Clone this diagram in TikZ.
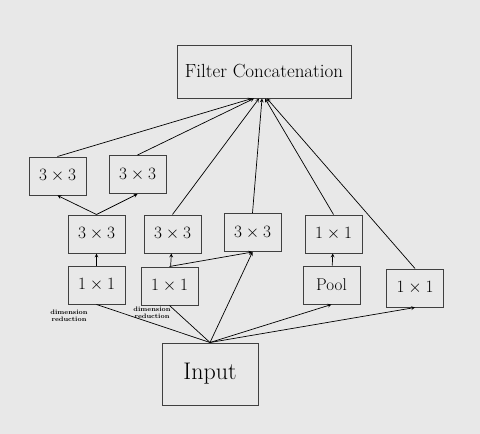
\documentclass[tikz,border=0pt]{standalone}
\usepackage{amsmath}
\usepackage{amssymb}
\usetikzlibrary{arrows}

\tikzset{blk/.style={draw=black!75, line width=1pt, minimum width=57pt, minimum height=38pt, inner sep=0pt, font=\fontsize{17}{17}\selectfont},
  note/.style={align=center, inner sep=0pt, font=\bfseries\fontsize{6.5}{7}\selectfont}}

\begin{document}
\begin{tikzpicture}[x=1pt,y=-1pt,>=stealth,line width=0.7pt]

\fill [black!9] (0,0) rectangle (480,434);
\useasboundingbox (0,0) rectangle (480,434);

\node [blk, minimum width=174pt, minimum height=53pt, font=\fontsize{19}{19}\selectfont] (cat) at (264,71.5) {Filter Concatenation};

\node [blk] (a) at (57.5,176) {$3 \times 3$};
\node [blk] (b) at (137.5,174.5) {$3 \times 3$};
\node [blk] (c) at (96.5,234) {$3 \times 3$};
\node [blk] (d) at (96.5,285) {$1 \times 1$};
\node [blk] (e) at (172.5,234) {$3 \times 3$};
\node [blk] (f) at (169.5,286) {$1 \times 1$};
\node [blk] (g) at (252.5,232.5) {$3 \times 3$};
\node [blk] (h) at (333.5,234) {$1 \times 1$};
\node [blk] (p) at (331.5,285) {Pool};
\node [blk] (j) at (415,288) {$1 \times 1$};

\node [blk, minimum width=96pt, minimum height=62pt, font=\fontsize{24}{24}\selectfont] (in) at (210,374) {Input};

\node [note] (n1) at (69,316) {dimension\\reduction};
\node [note] (n2) at (152,313) {dimension\\reduction};

\foreach \i in {d,f}
    \draw (in.north) -- (\i.south);

\foreach \i in {g,p,j}
    \draw [->] (in.north) -- (\i.south);

\draw [->] (d) -- (c);
\draw [->] (c.north) -- (a.south);
\draw [->] (c.north) -- (b.south);
\draw [->] (f) -- (e);
\draw [->] (f.north) -- (g.south);
\draw [->] (p) -- (h);

\foreach \i/\s in {a/-12,b/-10,e/-5,g/-2,h/1,j/3}
    \draw [->] (\i.north) -- ([xshift=\s pt]cat.south);

\end{tikzpicture}
\end{document}
